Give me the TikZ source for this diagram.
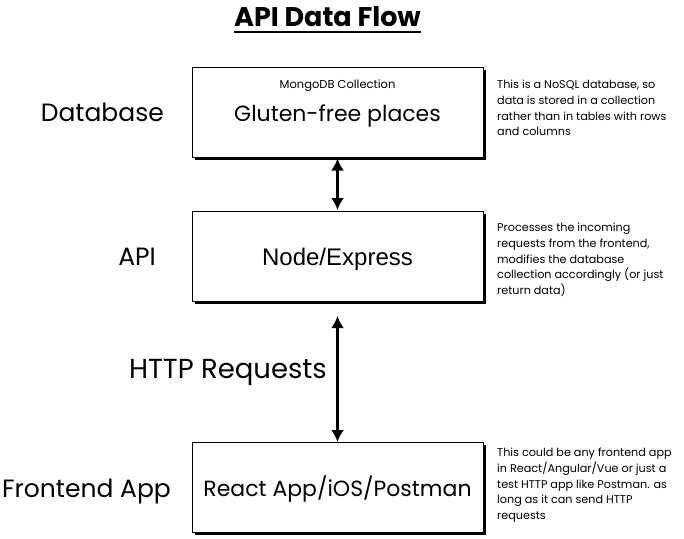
\documentclass[tikz,border=0pt]{standalone}
\usepackage{fontspec}
\setmainfont{Poppins}
\newfontfamily\arialfont{Liberation Sans}
\usetikzlibrary{arrows.meta,shadows}

\begin{document}
\begin{tikzpicture}[x=1pt,y=-1pt,
blok/.style={draw, line width=1pt, fill=white, minimum width=291pt, minimum height=90pt,
  font=\fontsize{22}{26}\selectfont, text height=22pt, text depth=4pt,
  drop shadow={shadow xshift=2.5pt,shadow yshift=-2.5pt,fill=black,opacity=1}},
laag/.style={anchor=east, inner sep=0pt, font=\fontsize{25}{30}\selectfont},
notitie/.style={anchor=north west, align=left, inner sep=0pt, font=\fontsize{11.2}{15.7}\selectfont},
pijl/.style={line width=3pt, {Latex[length=12pt,width=13pt]}-{Latex[length=12pt,width=13pt]}},
]
\useasboundingbox (0,0) rectangle (684,538);

% titel
\node[inner sep=0pt, font=\bfseries\fontsize{27}{30}\selectfont] (titel) at (327.5,17) {API Data Flow};
\draw[line width=1.3pt] ([yshift=-5pt]titel.base west) -- ([yshift=-5pt]titel.base east);

% lagen
\node[blok] (db) at (337.5,112) {Gluten-free places};
\node[font=\fontsize{11.5}{13}\selectfont] (mongo) at (337.5,85.5) {MongoDB Collection};
\node[blok, font=\arialfont\fontsize{24}{28}\selectfont] (api) at (337.5,256.5) {Node/Express};
\node[blok] (front) at (337.5,487.5) {React App/iOS/Postman};

\node[laag] (ldb) at (164,112) {Database};
\node[laag] (lapi) at (156,257) {API};
\node[laag, font=\fontsize{27.5}{32}\selectfont] (lhttp) at (327,372.5) {HTTP Requests};
\node[laag] (lfront) at (171,491) {Frontend App};

% pijlen
\draw[pijl, shorten <=1pt, shorten >=1pt] (db.south) -- (api.north);
\draw[pijl, shorten <=14pt] (api.south) -- (front.north);

% notities
\node[notitie] (ndb) at (497,80) {This is a NoSQL database, so\\data is stored in a collection\\rather than in tables with rows\\and columns};
\node[notitie] (napi) at (497,223) {Processes the incoming\\requests from the frontend,\\modifies the database\\collection accordingly (or just\\return data)};
\node[notitie] (nfront) at (497,448) {This could be any frontend app\\in React/Angular/Vue or just a\\test HTTP app like Postman. as\\long as it can send HTTP\\requests};
\end{tikzpicture}
\end{document}
